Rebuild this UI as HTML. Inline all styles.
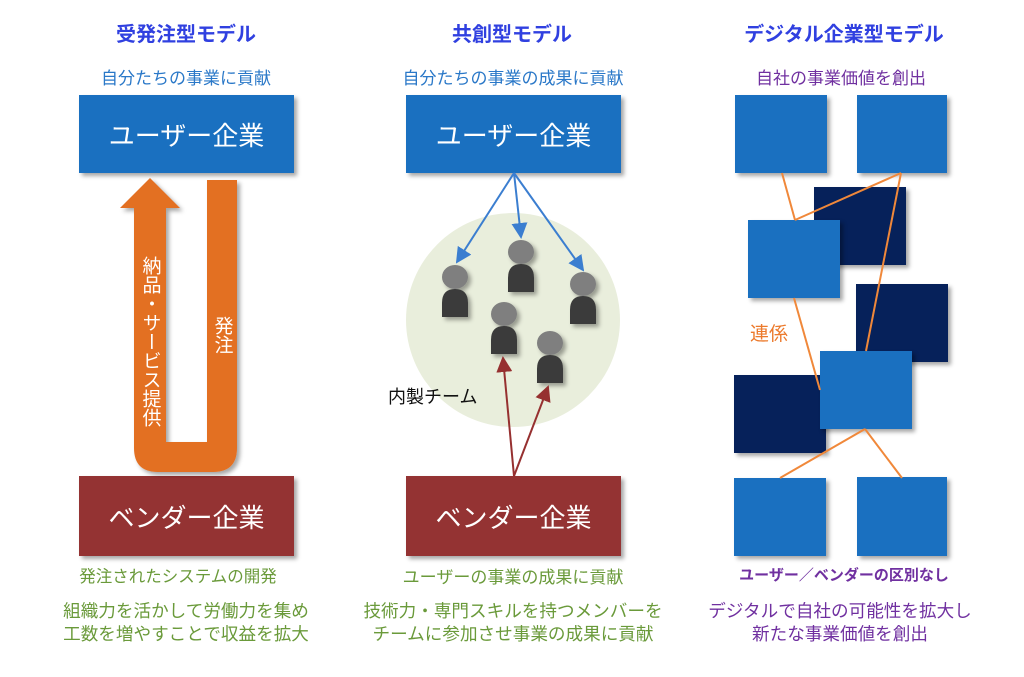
<!DOCTYPE html>
<html><head><meta charset="utf-8">
<style>
body{margin:0;width:1024px;height:677px;background:#fff;position:relative;overflow:hidden;font-family:"Liberation Sans","Noto Sans CJK JP",sans-serif;}
.t{position:absolute;text-align:center;white-space:nowrap;}
.title{color:#3040e0;font-weight:bold;font-size:20px;}
.sub{font-size:17px;}
.box{position:absolute;color:#fff;font-size:26px;display:flex;align-items:center;justify-content:center;box-shadow:3px 3px 4px rgba(0,0,0,0.35);}
.ub{background:#1a70c0;}
.vb{background:#943333;}
.blue{color:#2a78c8}.green{color:#6a9a3a}.purple{color:#7030a0}
.sq{position:absolute;width:92px;height:78px;box-shadow:3px 3px 4px rgba(0,0,0,0.35);}
.lb{background:#1a70c0}.db{background:#06215a}
</style></head><body>
<div class="t title" style="left:86px;width:200px;top:18px">受発注型モデル</div>
<div class="t title" style="left:412px;width:200px;top:18px">共創型モデル</div>
<div class="t title" style="left:734px;width:220px;top:18px">デジタル企業型モデル</div>

<div class="t sub blue" style="left:76px;width:220px;top:64px">自分たちの事業に貢献</div>
<div class="t sub blue" style="left:373px;width:280px;top:64px">自分たちの事業の成果に貢献</div>
<div class="t sub purple" style="left:736px;width:210px;top:64px">自社の事業価値を創出</div>

<div class="box ub" style="left:79px;top:95px;width:215px;height:78px">ユーザー企業</div>
<div class="box vb" style="left:79px;top:476px;width:215px;height:80px">ベンダー企業</div>
<div class="box ub" style="left:406px;top:95px;width:215px;height:78px">ユーザー企業</div>
<div class="box vb" style="left:406px;top:476px;width:215px;height:80px">ベンダー企業</div>

<svg style="position:absolute;left:0;top:0" width="1024" height="677">
<defs><filter id="sh"><feDropShadow dx="3" dy="3" stdDeviation="2" flood-opacity="0.35"/></filter>
<marker id="ab" markerWidth="8" markerHeight="8" refX="7" refY="4" orient="auto"><path d="M0,0 L8,4 L0,8 z" fill="#3b7ed0"/></marker>
<marker id="ar" markerWidth="8" markerHeight="8" refX="7" refY="4" orient="auto"><path d="M0,0 L8,4 L0,8 z" fill="#963030"/></marker></defs>
<path filter="url(#sh)" fill="#e36f22" d="M150,178 L180,208 L166,208 L166,442 L207,442 L207,180 L237,180 L237,448 Q237,472 213,472 L158,472 Q134,472 134,448 L134,208 L120,208 Z"/>
<text x="222" y="316" fill="#fff" font-size="19" style="writing-mode:vertical-rl">発注</text>
<text x="150" y="256" fill="#fff" font-size="19" style="writing-mode:vertical-rl">納品・サービス提供</text>

<ellipse cx="513" cy="320" rx="107" ry="107" fill="#e9eedc"/>
<g fill="none" stroke-width="2">
<line x1="514" y1="173" x2="457" y2="262" stroke="#3b7ed0" marker-end="url(#ab)"/>
<line x1="514" y1="173" x2="521" y2="237" stroke="#3b7ed0" marker-end="url(#ab)"/>
<line x1="514" y1="173" x2="583" y2="270" stroke="#3b7ed0" marker-end="url(#ab)"/>
</g>
<g filter="url(#sh)">
<g transform="translate(455,277)"><path d="M-13,40 L-13,26 Q-13,12 0,12 Q13,12 13,26 L13,40 Z" fill="#3a3a3a"/><ellipse cx="0" cy="0" rx="13" ry="12" fill="#7f7f7f"/></g>
<g transform="translate(521,252)"><path d="M-13,40 L-13,26 Q-13,12 0,12 Q13,12 13,26 L13,40 Z" fill="#3a3a3a"/><ellipse cx="0" cy="0" rx="13" ry="12" fill="#7f7f7f"/></g>
<g transform="translate(583,284)"><path d="M-13,40 L-13,26 Q-13,12 0,12 Q13,12 13,26 L13,40 Z" fill="#3a3a3a"/><ellipse cx="0" cy="0" rx="13" ry="12" fill="#7f7f7f"/></g>
<g transform="translate(504,314)"><path d="M-13,40 L-13,26 Q-13,12 0,12 Q13,12 13,26 L13,40 Z" fill="#3a3a3a"/><ellipse cx="0" cy="0" rx="13" ry="12" fill="#7f7f7f"/></g>
<g transform="translate(550,343)"><path d="M-13,40 L-13,26 Q-13,12 0,12 Q13,12 13,26 L13,40 Z" fill="#3a3a3a"/><ellipse cx="0" cy="0" rx="13" ry="12" fill="#7f7f7f"/></g>
</g>
<g fill="none" stroke-width="2">
<line x1="514" y1="476" x2="503" y2="358" stroke="#963030" marker-end="url(#ar)"/>
<line x1="514" y1="476" x2="548" y2="387" stroke="#963030" marker-end="url(#ar)"/>
</g>
<text x="388" y="403" font-size="18" fill="#111">内製チーム</text>
</svg>

<div class="sq lb" style="left:735px;top:95px"></div>
<div class="sq lb" style="left:857px;top:95px;width:90px"></div>
<div class="sq db" style="left:814px;top:187px"></div>
<div class="sq lb" style="left:748px;top:220px"></div>
<div class="sq db" style="left:856px;top:284px"></div>
<div class="sq db" style="left:734px;top:375px"></div>
<div class="sq lb" style="left:820px;top:351px"></div>
<div class="sq lb" style="left:734px;top:478px"></div>
<div class="sq lb" style="left:857px;top:477px;width:90px;height:79px"></div>
<svg style="position:absolute;left:0;top:0" width="1024" height="677">
<g stroke="#f0883a" stroke-width="2" fill="none">
<line x1="782" y1="173" x2="795" y2="220"/>
<line x1="901" y1="173" x2="795" y2="220"/>
<line x1="901" y1="173" x2="866" y2="351"/>
<line x1="794" y1="298" x2="820" y2="390"/>
<line x1="865" y1="429" x2="780" y2="478"/>
<line x1="865" y1="429" x2="902" y2="478"/>
</g>
<text x="750" y="340" font-size="19" fill="#ec7a2c">連係</text>
</svg>

<div class="t sub green" style="left:68px;width:220px;top:563px;font-size:16.5px">発注されたシステムの開発</div>
<div class="t sub green" style="left:383px;width:260px;top:563px">ユーザーの事業の成果に貢献</div>
<div class="t purple" style="left:716px;width:256px;top:564px;font-size:15px;font-weight:bold">ユーザー／ベンダーの区別なし</div>

<div class="t green" style="left:36px;width:300px;top:600px;font-size:17.6px;line-height:23px">組織力を活かして労働力を集め<br>工数を増やすことで収益を拡大</div>
<div class="t green" style="left:358px;width:310px;top:600px;font-size:17.6px;line-height:23px">技術力・専門スキルを持つメンバーを<br>チームに参加させ事業の成果に貢献</div>
<div class="t purple" style="left:695px;width:290px;top:600px;font-size:17.6px;line-height:23px">デジタルで自社の可能性を拡大し<br>新たな事業価値を創出</div>
</body></html>
